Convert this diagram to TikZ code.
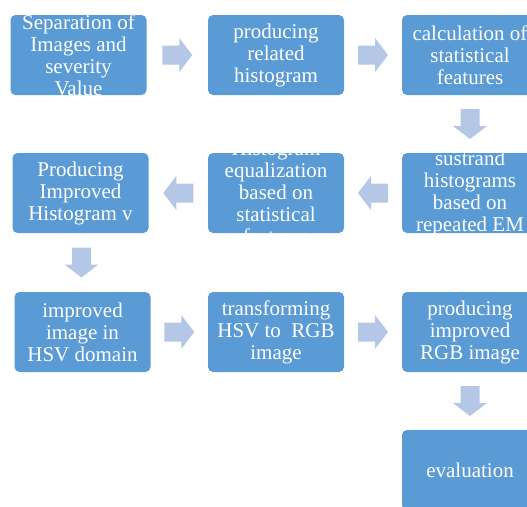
\documentclass[tikz,border=0pt]{standalone}
\usepackage{fontspec}
\setmainfont{Liberation Serif}
\usetikzlibrary{calc}
\definecolor{stageblue}{RGB}{91, 155, 213}
\definecolor{arrowblue}{RGB}{180, 199, 231}

\tikzset{
  stage/.style={rectangle, rounded corners=5pt, fill=stageblue, minimum width=136pt, minimum height=80pt, inner sep=0pt},
  stagetext/.style={text=white, align=center, inner sep=0pt, font=\rmfamily\fontsize{21}{22}\selectfont},
  pics/flowarrow/.style={code={
    \fill[arrowblue] (-15,-9.5) -- (2,-9.5) -- (2,-17) -- (15,0) -- (2,17) -- (2,9.5) -- (-15,9.5) -- cycle;
  }}
}

\begin{document}
\begin{tikzpicture}[x=1pt, y=-1pt]
  \useasboundingbox (0,0) rectangle (527,506);
  \clip (0,0) rectangle (527,506);

  % First row
  \node[stage, label={[stagetext]center:Separation of\\Images and\\severity\\Value}] (separation) at (78.5,55) {};
  \node[stage, label={[stagetext]center:producing\\related\\histogram}] (relhist) at (276,55) {};
  \node[stage, label={[stagetext]center:calculation of\\statistical\\features}] (features) at (470,55) {};

  % Second row
  \node[stage, label={[stagetext]center:sustrand\\histograms\\based on\\repeated EM}] (sustrand) at (470,193) {};
  \node[stage, label={[stagetext]center:Histogram\\equalization\\based on\\statistical\\features}] (equal) at (276,193) {};
  \node[stage, label={[stagetext]center:Producing\\Improved\\Histogram v}] (improvedhist) at (80.5,193) {};

  % Third row
  \node[stage, label={[stagetext]center:improved\\image in\\HSV domain}] (hsvimage) at (82.5,332) {};
  \node[stage, label={[stagetext]center:transforming\\HSV to~ RGB\\image}] (hsvrgb) at (276,332) {};
  \node[stage, label={[stagetext]center:producing\\improved\\RGB image}] (rgbimage) at (470,332) {};

  % Last stage
  \node[stage, label={[stagetext]center:evaluation}] (evaluation) at (470,470) {};

  % Block arrows between the stages
  \pic at ($(separation.east)!0.5!(relhist.west)$) {flowarrow};
  \pic at ($(relhist.east)!0.5!(features.west)$) {flowarrow};
  \pic[rotate=-90] at ($(features.south)!0.5!(sustrand.north)$) {flowarrow};
  \pic[rotate=180] at ($(sustrand.west)!0.5!(equal.east)$) {flowarrow};
  \pic[rotate=180] at ($(equal.west)!0.5!(improvedhist.east)$) {flowarrow};
  \pic[rotate=-90] at ($(improvedhist.south)!0.5!(hsvimage.north)$) {flowarrow};
  \pic at ($(hsvimage.east)!0.5!(hsvrgb.west)$) {flowarrow};
  \pic at ($(hsvrgb.east)!0.5!(rgbimage.west)$) {flowarrow};
  \pic[rotate=-90] at ($(rgbimage.south)!0.5!(evaluation.north)$) {flowarrow};
\end{tikzpicture}
\end{document}
